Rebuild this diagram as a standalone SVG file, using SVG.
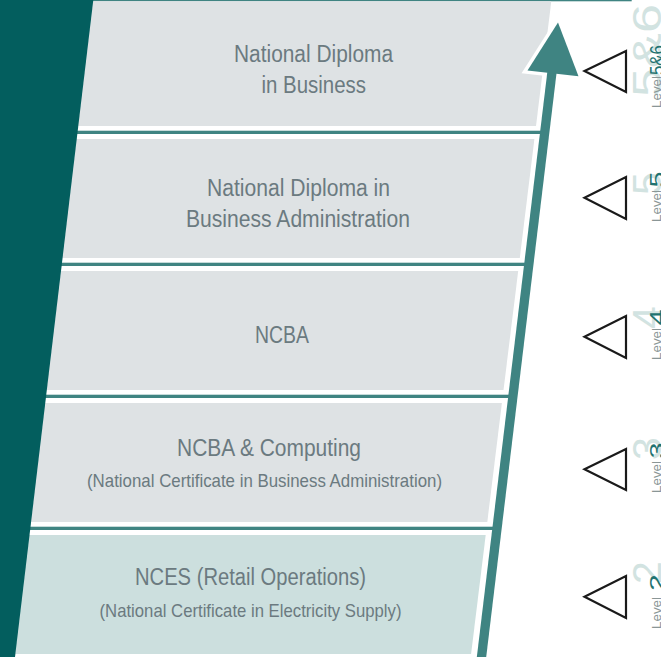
<svg xmlns="http://www.w3.org/2000/svg" width="661" height="657" viewBox="0 0 661 657">
<style>
.panel{fill:#DEE2E4}
.panel5{fill:#CCDFDE}
.sep{fill:#3F8482}
.t{font-family:"Liberation Sans",Arial,sans-serif;font-size:23.5px;fill:#6B7A80}
.s{font-family:"Liberation Sans",Arial,sans-serif;font-size:19px;fill:#6B7A80}
.tri{fill:none;stroke:#1A1A1A;stroke-width:2.2}
.lvl{font-family:"Liberation Sans",Arial,sans-serif;font-size:13.5px;fill:#8A9696}
.num{font-family:"Liberation Sans",Arial,sans-serif;font-size:21px;fill:#1F7371}
.ghost{font-family:"Liberation Sans",Arial,sans-serif;font-size:41px;fill:#D2E3E1}
</style>
<rect width="661" height="657" fill="#FFFFFF"/>
<g id="connectors">
<rect class="sep" x="0" y="0" width="631.7" height="1.3"/>
<rect class="sep" x="0" y="130.7" width="548" height="3.3"/>
<rect class="sep" x="0" y="262.7" width="532" height="3.3"/>
<rect class="sep" x="0" y="394.7" width="516" height="3.3"/>
<rect class="sep" x="0" y="526.7" width="500" height="3.3"/>
</g>
<g id="panel-1">
<polygon class="panel" points="0,1.3 551.3,1.3 536,126 0,126"/>
<text class="t" x="234" y="61.5" textLength="159" lengthAdjust="spacingAndGlyphs">National Diploma</text>
<text class="t" x="261.5" y="93" textLength="104.5" lengthAdjust="spacingAndGlyphs">in Business</text>
</g>
<g id="panel-2">
<polygon class="panel" points="0,139 534.4,139 519.8,258 0,258"/>
<text class="t" x="207" y="195.5" textLength="183" lengthAdjust="spacingAndGlyphs">National Diploma in</text>
<text class="t" x="186" y="227" textLength="224" lengthAdjust="spacingAndGlyphs">Business Administration</text>
</g>
<g id="panel-3">
<polygon class="panel" points="0,271 518.2,271 503.5,390 0,390"/>
<text class="t" x="255" y="343" textLength="54" lengthAdjust="spacingAndGlyphs">NCBA</text>
</g>
<g id="panel-4">
<polygon class="panel" points="0,403 501.9,403 487.3,522 0,522"/>
<text class="t" x="177" y="456" textLength="184" lengthAdjust="spacingAndGlyphs">NCBA &amp; Computing</text>
<text class="s" x="87" y="487" textLength="355" lengthAdjust="spacingAndGlyphs">(National Certificate in Business Administration)</text>
</g>
<g id="panel-5">
<polygon class="panel5" points="0,535 485.7,535 471.1,654 0,654"/>
<text class="t" x="135" y="585" textLength="231" lengthAdjust="spacingAndGlyphs">NCES (Retail Operations)</text>
<text class="s" x="99.5" y="617" textLength="302" lengthAdjust="spacingAndGlyphs">(National Certificate in Electricity Supply)</text>
</g>
<g id="left-band">
<polygon points="0,0 93.3,0 15,657 0,657" fill="#035E5E"/>
</g>
<g id="arrow">
<polygon points="558,22.5 578.5,76.2 527.5,70.5" fill="#FFFFFF" stroke="#FFFFFF" stroke-width="7" stroke-linejoin="miter"/>
<line x1="481.4" y1="658" x2="552" y2="72" stroke="#3F8482" stroke-width="9.3"/>
<polygon points="558,22.5 578.5,76.2 527.5,70.5" fill="#3F8482"/>
</g>
<g id="level-56">
<polygon class="tri" points="584.5,71 626,51 626,92"/>
<text class="ghost" transform="translate(661,97) rotate(-90)" textLength="93" lengthAdjust="spacingAndGlyphs">5&amp;6</text>
<text class="num" transform="translate(664,75) rotate(-90)" textLength="30" lengthAdjust="spacingAndGlyphs">5&amp;6</text>
<text class="lvl" transform="translate(660.5,108) rotate(-90)" textLength="32" lengthAdjust="spacingAndGlyphs">Level</text>
</g>
<g id="level-5">
<polygon class="tri" points="584.5,197.7 626,177 626,219"/>
<text class="ghost" transform="translate(661,195) rotate(-90)">5</text>
<text class="num" transform="translate(664,187.5) rotate(-90)" textLength="16" lengthAdjust="spacingAndGlyphs">5</text>
<text class="lvl" transform="translate(660.5,222) rotate(-90)" textLength="32" lengthAdjust="spacingAndGlyphs">Level</text>
</g>
<g id="level-4">
<polygon class="tri" points="584.5,336.7 626,316 626,358"/>
<text class="ghost" transform="translate(661,329) rotate(-90)">4</text>
<text class="num" transform="translate(664,325.5) rotate(-90)" textLength="16" lengthAdjust="spacingAndGlyphs">4</text>
<text class="lvl" transform="translate(660.5,360) rotate(-90)" textLength="32" lengthAdjust="spacingAndGlyphs">Level</text>
</g>
<g id="level-3">
<polygon class="tri" points="584.5,469.3 626,449 626,490"/>
<text class="ghost" transform="translate(661,460) rotate(-90)">3</text>
<text class="num" transform="translate(664,458.5) rotate(-90)" textLength="16" lengthAdjust="spacingAndGlyphs">3</text>
<text class="lvl" transform="translate(660.5,493) rotate(-90)" textLength="32" lengthAdjust="spacingAndGlyphs">Level</text>
</g>
<g id="level-2">
<polygon class="tri" points="584.5,596.7 626,576 626,618"/>
<text class="ghost" transform="translate(661,584) rotate(-90)">2</text>
<text class="num" transform="translate(664,591) rotate(-90)" textLength="17" lengthAdjust="spacingAndGlyphs">2</text>
<text class="lvl" transform="translate(660.5,629) rotate(-90)" textLength="32" lengthAdjust="spacingAndGlyphs">Level</text>
</g>
</svg>
